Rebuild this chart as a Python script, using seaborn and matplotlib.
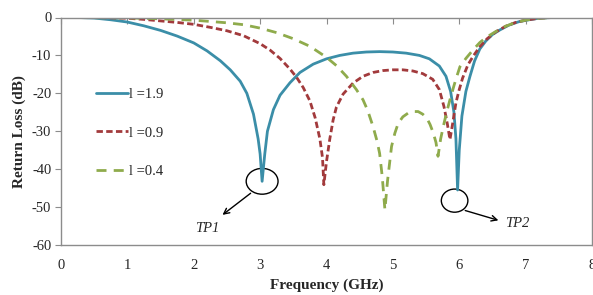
import matplotlib
matplotlib.use("Agg")
import matplotlib.pyplot as plt
from matplotlib.patches import Ellipse
import seaborn as sns
import pandas as pd

# l = 1.9
freq_19 = [0, 0.25, 0.5, 0.75, 1.0, 1.25, 1.5, 1.75, 2.0, 2.2, 2.4, 2.55, 2.7, 2.8,
           2.9, 2.97, 3.0, 3.03, 3.07, 3.11, 3.2, 3.3, 3.45, 3.6, 3.8, 4.0, 4.2,
           4.4, 4.6, 4.8, 5.0, 5.2, 5.4, 5.55, 5.7, 5.8, 5.87, 5.92, 5.95, 5.975,
           6.0, 6.04, 6.1, 6.16, 6.23, 6.31, 6.4, 6.5, 6.61, 6.75, 6.9, 7.05, 7.2,
           7.4, 8.0]
rl_19 = [0, 0, -0.15, -0.6, -1.2, -2.2, -3.4, -4.9, -6.7, -8.8, -11.4, -13.8,
         -16.8, -20, -25.5, -32, -36, -43.2, -36, -30, -24.3, -20.5, -17.2, -14.5,
         -12.3, -10.9, -10.0, -9.4, -9.1, -9.0, -9.1, -9.4, -10.0, -10.9, -12.8,
         -15.5, -19.5, -25, -32, -45.5, -35, -26, -19.5, -15.6, -11.5, -8.3, -6.2,
         -4.5, -3.3, -2.0, -1.1, -0.6, -0.2, 0, 0]

# l = 0.9
freq_09 = [0, 0.5, 1.0, 1.25, 1.5, 1.75, 2.0, 2.25, 2.5, 2.75, 3.0, 3.15, 3.3, 3.45,
           3.55, 3.65, 3.75, 3.83, 3.9, 3.94, 3.96, 4.0, 4.05, 4.1, 4.15, 4.25,
           4.4, 4.55, 4.7, 4.85, 5.0, 5.15, 5.3, 5.45, 5.6, 5.7, 5.77, 5.82, 5.86,
           5.9, 5.95, 6.0, 6.05, 6.13, 6.21, 6.31, 6.42, 6.55, 6.7, 6.85, 7.0, 7.2,
           7.4, 8.0]
rl_09 = [0, 0, -0.2, -0.5, -0.9, -1.3, -1.8, -2.6, -3.5, -4.8, -6.9, -8.6, -10.8,
         -13.6, -15.8, -18.5, -22, -26.5, -32, -37, -44.1, -38, -32, -27, -23.6,
         -20.2, -17.3, -15.5, -14.5, -14.0, -13.8, -13.8, -14.1, -14.8, -16.3, -19,
         -23.5, -28, -32.2, -28, -22.5, -19, -16, -12.5, -10.2, -7.7, -5.6, -3.8,
         -2.3, -1.3, -0.7, -0.2, 0, 0]

# l = 0.4
freq_04 = [0, 1.0, 1.5, 2.0, 2.5, 2.75, 3.0, 3.25, 3.5, 3.75, 4.0, 4.15, 4.3, 4.45,
           4.55, 4.62, 4.7, 4.76, 4.8, 4.84, 4.88, 4.92, 4.96, 4.98, 5.03, 5.08,
           5.15, 5.23, 5.3, 5.38, 5.45, 5.51, 5.56, 5.61, 5.65, 5.68, 5.72, 5.76,
           5.81, 5.86, 5.92, 5.96, 6.01, 6.1, 6.21, 6.31, 6.41, 6.55, 6.7, 6.85,
           7.0, 7.2, 7.4, 8.0]
rl_04 = [0, -0.1, -0.35, -0.7, -1.4, -1.9, -2.8, -4.0, -5.6, -7.6, -10.5, -12.7,
         -15.5, -19, -21.7, -24.5, -28.7, -32.5, -35.8, -42, -50.7, -43, -37, -34,
         -30.5, -27.9, -26.2, -25.2, -24.8, -24.8, -25.5, -26.5, -28.2, -30.5, -33,
         -36.6, -32, -28.7, -25, -21.7, -18, -15.7, -13, -10.8, -8.5, -6.6, -5.2,
         -3.7, -2.3, -1.3, -0.7, -0.2, 0, 0]

series = [
    ("l =1.9", freq_19, rl_19, "#3b8ea8", "-"),
    ("l =0.9", freq_09, rl_09, "#a23a3c", (0, (2.3, 1.2))),
    ("l =0.4", freq_04, rl_04, "#8fab4c", (0, (3.6, 2.6))),
]

sns.set_style("white")
plt.rcParams["font.family"] = ["Liberation Serif", "DejaVu Serif"]
plt.rcParams["axes.unicode_minus"] = False

fig = plt.figure(figsize=(5.93, 2.95), dpi=100)
ax = fig.add_axes([61 / 593, 50 / 295, 531 / 593, 227.5 / 295])

for label, f, rl, color, ls in series:
    df = pd.DataFrame({"freq": f, "rl": rl})
    sns.lineplot(data=df, x="freq", y="rl", ax=ax, color=color, linestyle=ls,
                 linewidth=2, label=label, sort=False, estimator=None)

ax.set_xlim(0, 8)
ax.set_ylim(-60, 0)
ax.set_xticks(range(0, 9))
ax.set_yticks(range(-60, 1, 10))
ax.set_xlabel("Frequency (GHz)", fontsize=11, fontweight="bold", labelpad=5)
ax.set_ylabel("Return Loss (dB)", fontsize=11, fontweight="bold", labelpad=4)

for sp in ax.spines.values():
    sp.set_visible(True)
    sp.set_color("#8c8c8c")
    sp.set_linewidth(1)

ax.tick_params(axis="x", top=True, bottom=False, labelbottom=True, direction="in",
               length=4, color="#8c8c8c", labelsize=10.5, pad=10)
ax.tick_params(axis="y", left=True, direction="out", length=4, color="#8c8c8c",
               labelsize=10.5, pad=3)

ax.legend(loc="upper left", bbox_to_anchor=(0.066, 0.692), frameon=False,
          fontsize=10.5, handlelength=2.2, handletextpad=0.05, labelspacing=1.75,
          borderaxespad=0, borderpad=0)

# TP annotations
ax.add_patch(Ellipse((3.03, -43.2), 0.48, 6.8, fill=False, color="black", lw=1))
ax.annotate("", xy=(2.4, -52.5), xytext=(2.89, -45.9),
            arrowprops=dict(arrowstyle="->", color="black", lw=1))
ax.text(2.2, -55.7, "TP1", fontsize=10.5, style="italic", ha="center", va="center")

ax.add_patch(Ellipse((5.93, -48.3), 0.4, 6.1, fill=False, color="black", lw=1))
ax.annotate("", xy=(6.63, -53.7), xytext=(6.05, -50.7),
            arrowprops=dict(arrowstyle="->", color="black", lw=1))
ax.text(6.88, -54.2, "TP2", fontsize=10.5, style="italic", ha="center", va="center")

fig.savefig("out.png", dpi=100)
